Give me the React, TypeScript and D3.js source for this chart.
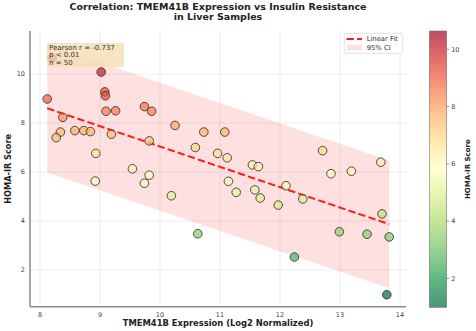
import React from "react";
import * as d3 from "d3";

const expression = [8.12, 9.02, 9.08, 9.09, 9.10, 9.26, 9.74, 9.86, 8.38, 8.34, 8.27, 8.58, 8.73, 8.84, 9.19, 9.82, 8.93, 9.54, 9.82, 8.92, 9.74, 10.25, 10.73, 11.08, 10.59, 10.96, 11.12, 11.54, 11.64, 11.14, 10.19, 11.27, 11.58, 11.67, 10.63, 12.10, 11.97, 12.38, 13.70, 12.99, 13.45, 13.82, 12.24, 13.78, 12.71, 12.85, 13.19, 13.68, 8.2];
const homaIR = [8.98, 10.08, 9.27, 9.11, 8.48, 8.50, 8.67, 8.48, 8.23, 7.63, 7.40, 7.69, 7.69, 7.65, 7.54, 7.27, 6.76, 6.13, 5.87, 5.63, 5.54, 7.90, 7.63, 7.63, 7.00, 6.76, 6.58, 6.29, 6.22, 5.62, 5.03, 5.17, 5.27, 4.94, 3.48, 5.44, 4.65, 4.90, 4.29, 3.56, 3.46, 3.35, 2.53, 0.99, 6.87, 5.93, 6.03, 6.40, 10.64];

const fitX = [8.12, 13.82];
const fitY = [8.6, 3.87];
const ciUpper = [11.2, 6.47];
const ciLower = [5.98, 1.25];

const xTicks = [8, 9, 10, 11, 12, 13, 14];
const yTicks = [2, 4, 6, 8, 10];
const cbTicks = [2, 4, 6, 8, 10];
const statsLines = ["Pearson r = -0.737", "p < 0.01", "n = 50"];
const rdylgn = ["#a50026", "#d73027", "#f46d43", "#fdae61", "#fee08b", "#ffffbf", "#d9ef8b", "#a6d96a", "#66bd63", "#1a9850", "#006837"];

const FONT = "DejaVu Sans";

export default function App() {
  const W = 476, H = 331;
  const left = 30, right = 406, top = 31, bottom = 306.7;
  const x = d3.scaleLinear().domain([7.833, 14.1]).range([left, right]);
  const y = d3.scaleLinear().domain([0.502, 11.755]).range([bottom, top]);

  const vmin = d3.min(homaIR) as number;
  const vmax = d3.max(homaIR) as number;
  const stops = rdylgn.slice().reverse();
  const cmap = d3.scaleLinear<string>()
    .domain(stops.map((_, i) => vmin + (i / (stops.length - 1)) * (vmax - vmin)))
    .range(stops)
    .interpolate(d3.interpolateRgb);

  const cbX = 429.3, cbW = 17.4, cbTop = 31, cbBot = 307.3;
  const cbY = d3.scaleLinear().domain([vmin, vmax]).range([cbBot, cbTop]);

  const band = d3.area<number>()
    .x((_, i) => x(fitX[i]))
    .y0((_, i) => y(ciLower[i]))
    .y1((_, i) => y(ciUpper[i]));
  const line = d3.line<number>().x((_, i) => x(fitX[i])).y((d) => y(d));

  const gradStops = d3.range(0, 1.0001, 0.05);

  return (
    <svg width={W} height={H} style={{ position: "fixed", left: 0, top: 0, background: "#fff" }} fontFamily={FONT}>
      <defs>
        <linearGradient id="cbg" x1="0" y1="1" x2="0" y2="0">
          {gradStops.map((t) => (
            <stop key={t} offset={t} stopColor={cmap(vmin + t * (vmax - vmin))} />
          ))}
        </linearGradient>
        <clipPath id="plotclip">
          <rect x={left} y={top} width={right - left} height={bottom - top} />
        </clipPath>
      </defs>
      <rect width={W} height={H} fill="#fff" />
      {/* title */}
      <text x={(left + right) / 2} y={10} textAnchor="middle" fontSize={9.5} fontWeight="bold" fill="#222">
        Correlation: TMEM41B Expression vs Insulin Resistance
      </text>
      <text x={(left + right) / 2} y={20.4} textAnchor="middle" fontSize={9.5} fontWeight="bold" fill="#222">
        in Liver Samples
      </text>
      {/* grid */}
      {xTicks.map((t) => (
        <line key={"gx" + t} x1={x(t)} x2={x(t)} y1={top} y2={bottom} stroke="#e8e8e8" strokeWidth={0.8} />
      ))}
      {yTicks.map((t) => (
        <line key={"gy" + t} x1={left} x2={right} y1={y(t)} y2={y(t)} stroke="#e8e8e8" strokeWidth={0.8} />
      ))}
      <g clipPath="url(#plotclip)">
        <path d={band(fitX) || ""} fill="#ff0000" fillOpacity={0.12} />
        <path d={line(fitY) || ""} fill="none" stroke="#ff1a1a" strokeWidth={2} strokeDasharray="7.4,3.2" />
        {expression.map((ex, i) => (
          <circle key={i} cx={x(ex)} cy={y(homaIR[i])} r={4.3} fill={cmap(homaIR[i])} fillOpacity={0.7} stroke="#333" strokeOpacity={0.85} strokeWidth={1} />
        ))}
      </g>
      {/* spines */}
      <line x1={left} x2={left} y1={top} y2={bottom} stroke="#888" strokeWidth={1.5} />
      <line x1={left} x2={right} y1={bottom} y2={bottom} stroke="#888" strokeWidth={1.5} />
      {/* tick labels */}
      {xTicks.map((t) => (
        <text key={"tx" + t} x={x(t)} y={317} textAnchor="middle" fontSize={6.5} fill="#444">{t}</text>
      ))}
      {yTicks.map((t) => (
        <text key={"ty" + t} x={25} y={y(t) + 2.3} textAnchor="end" fontSize={6.5} fill="#444">{t}</text>
      ))}
      <text x={(left + right) / 2} y={326} textAnchor="middle" fontSize={8.4} fontWeight="bold" fill="#222">
        TMEM41B Expression (Log2 Normalized)
      </text>
      <text transform={`translate(10.5,${(top + bottom) / 2}) rotate(-90)`} textAnchor="middle" fontSize={8.2} fontWeight="bold" fill="#222">
        HOMA-IR Score
      </text>
      {/* stats box */}
      <rect x={47} y={43} width={77} height={24} rx={2} fill="#f5deb3" fillOpacity={0.82} />
      {statsLines.map((s, i) => (
        <text key={s} x={49} y={49.8 + i * 7.6} fontSize={7} fill="#333">{s}</text>
      ))}
      {/* legend */}
      <rect x={344.3} y={33.3} width={58.4} height={20} rx={2} fill="#fff" fillOpacity={0.9} stroke="#ccc" strokeWidth={0.6} />
      <line x1={346.5} x2={362} y1={39} y2={39} stroke="#ff1a1a" strokeWidth={2} strokeDasharray="7.4,3.2" />
      <text x={366.7} y={41.4} fontSize={6.8} fill="#333">Linear Fit</text>
      <rect x={346.5} y={44.8} width={15.5} height={5.5} fill="#ff0000" fillOpacity={0.12} />
      <text x={366.7} y={50} fontSize={6.8} fill="#333">95% CI</text>
      {/* colorbar */}
      <rect x={cbX} y={cbTop} width={cbW} height={cbBot - cbTop} fill="url(#cbg)" fillOpacity={0.7} />
      <rect x={cbX} y={cbTop} width={cbW} height={cbBot - cbTop} fill="none" stroke="#777" strokeWidth={0.6} />
      {cbTicks.map((t) => (
        <g key={"cb" + t}>
          <line x1={cbX + cbW} x2={cbX + cbW + 2.5} y1={cbY(t)} y2={cbY(t)} stroke="#555" strokeWidth={0.6} />
          <text x={cbX + cbW + 4.5} y={cbY(t) + 2.3} fontSize={6.5} fill="#444">{t}</text>
        </g>
      ))}
      <text transform={`translate(470,${(cbTop + cbBot) / 2}) rotate(-90)`} textAnchor="middle" fontSize={7} fontWeight="bold" fill="#222">
        HOMA-IR Score
      </text>
    </svg>
  );
}
